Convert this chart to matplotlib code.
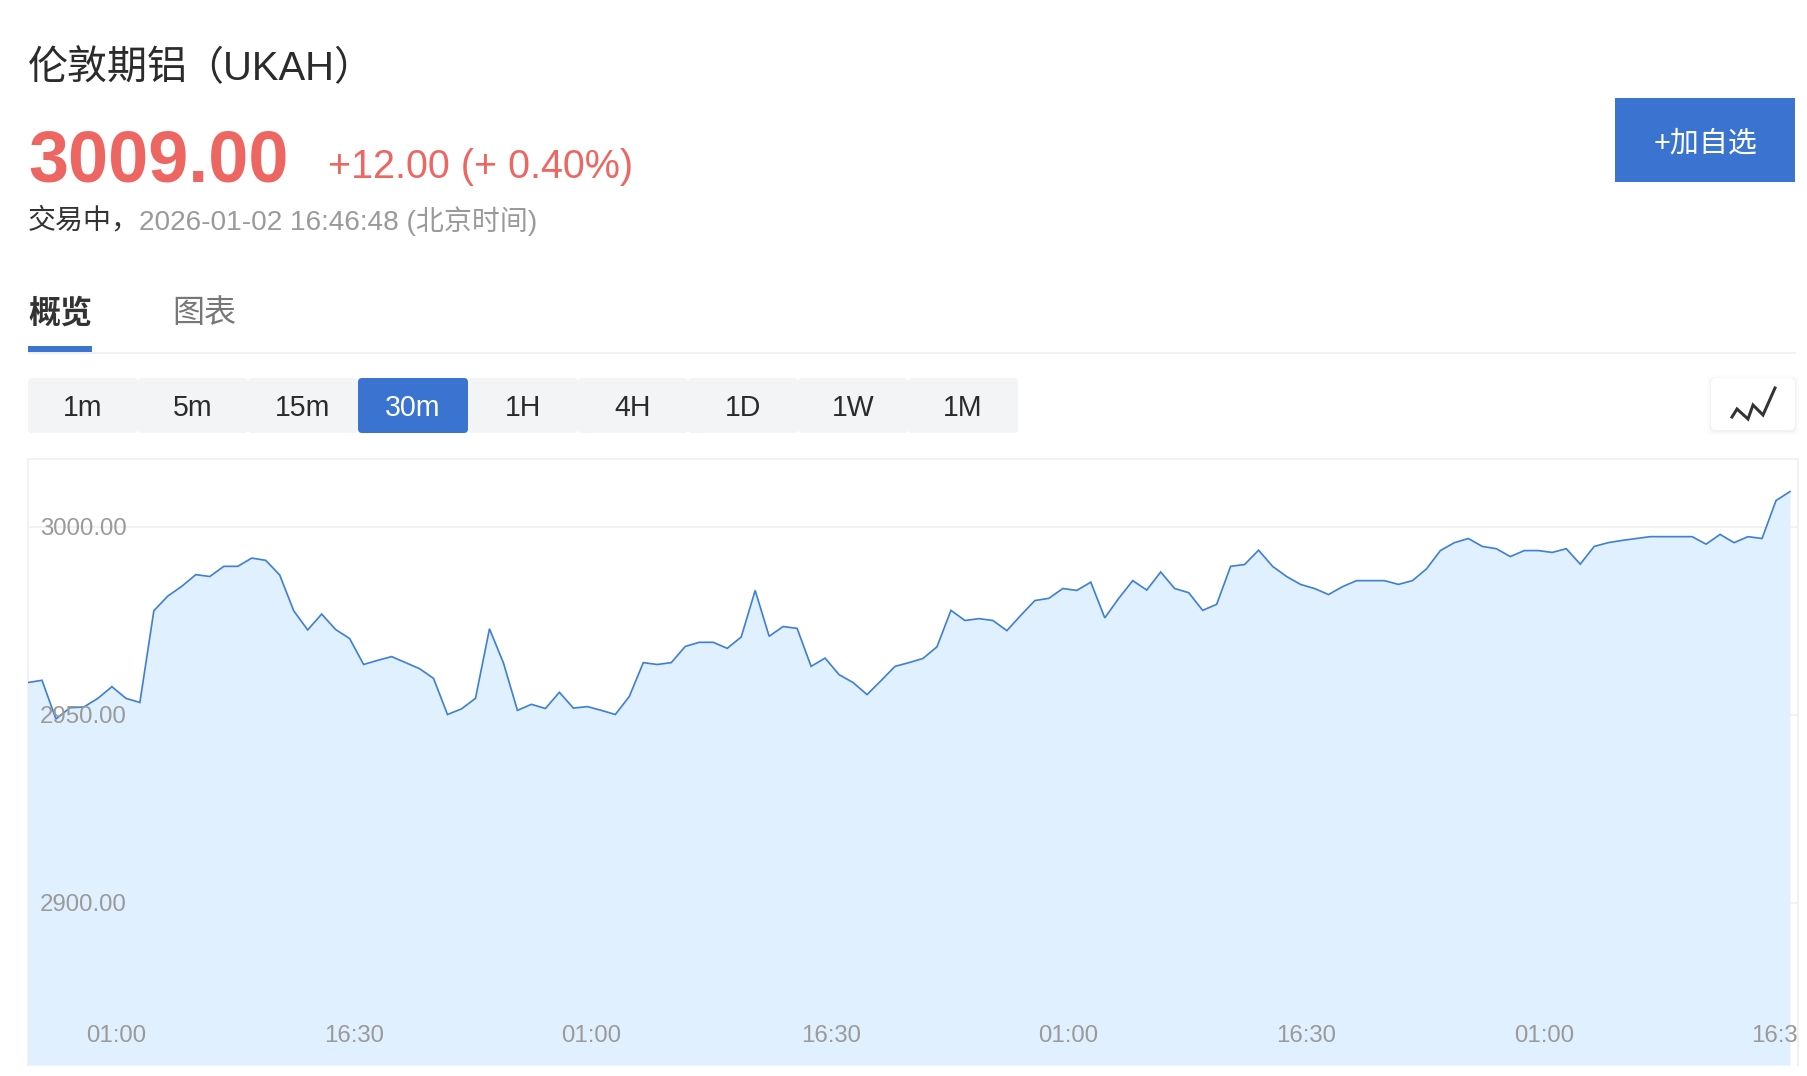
import matplotlib
matplotlib.use("Agg")
import matplotlib.pyplot as plt
from matplotlib.patches import FancyBboxPatch, Rectangle

W, H = 1808, 1076
FONT = ['Liberation Sans', 'Noto Sans CJK SC', 'DejaVu Sans']
plt.rcParams['font.family'] = FONT

prices = [
    2958.5, 2959.1, 2948.8, 2951.8, 2952.0, 2954.3, 2957.4, 2954.3, 2953.2, 2977.6,
    2981.5, 2984.1, 2987.2, 2986.7, 2989.4, 2989.4, 2991.6, 2991.0, 2987.1, 2977.6,
    2972.5, 2976.7, 2972.6, 2970.2, 2963.3, 2964.4, 2965.4, 2963.8, 2962.2, 2959.6,
    2950.0, 2951.5, 2954.3, 2972.8, 2963.7, 2951.1, 2952.7, 2951.6, 2955.9, 2951.7,
    2952.1, 2951.1, 2950.0,
    2954.8, 2963.8, 2963.3, 2963.8, 2968.1, 2969.2, 2969.2, 2967.6, 2970.6, 2983.0,
    2970.8, 2973.4, 2972.9, 2962.8, 2965.0, 2960.6, 2958.5, 2955.3, 2959.0, 2962.8,
    2963.8, 2964.9, 2968.0, 2977.7, 2975.0, 2975.5, 2975.0, 2972.3, 2976.4, 2980.3,
    2980.9, 2983.5, 2983.0, 2985.2, 2975.7, 2980.9, 2985.6, 2983.1, 2987.9, 2983.5,
    2982.4, 2977.7,
    2979.3, 2989.4, 2989.9, 2993.7, 2989.4, 2986.7, 2984.6, 2983.5, 2981.9, 2984.0,
    2985.6, 2985.6, 2985.6, 2984.6, 2985.6, 2988.7, 2993.6, 2995.7, 2996.8, 2994.7,
    2994.1, 2992.0, 2993.6, 2993.6, 2993.1, 2994.1, 2990.0, 2994.7, 2995.7, 2996.3,
    2996.8, 2997.3, 2997.3, 2997.3, 2997.3, 2995.3, 2997.9, 2995.7, 2997.3, 2996.8,
    3006.9, 3009.3,
]
y_ticks = [2900, 2950, 3000]
y_tick_labels = ["2900.00", "2950.00", "3000.00"]
x_tick_positions = [6.3, 23.3, 40.3, 57.4, 74.4, 91.4, 108.4, 125.4]
x_tick_labels = ["01:00", "16:30", "01:00", "16:30", "01:00", "16:30", "01:00", "16:30"]
intervals = ["1m", "5m", "15m", "30m", "1H", "4H", "1D", "1W", "1M"]
active_interval = "30m"

BLUE = '#3b74d0'
RED = '#ee6661'
GREY = '#9a9a9a'
RULE = '#f1f1f4'
BTN = '#f3f4f6'
FILL = '#e0f0fe'
LINE = '#3f80d3'


def px(v):
    return v * 0.72


fig = plt.figure(figsize=(W / 100, H / 100), dpi=100, facecolor='white')

# page chrome, in pixel coordinates
ui = fig.add_axes([0, 0, 1, 1], zorder=0)
ui.set_xlim(0, W)
ui.set_ylim(H, 0)
ui.axis('off')

ui.text(28, 69, "伦敦期铝", fontsize=px(40), color='#2b2b2b', va='center', ha='left')
ui.text(183, 69, "（UKAH）", fontsize=px(40), color='#2b2b2b', va='center', ha='left')
ui.text(28, 181, "3009.00", fontsize=px(72), fontweight='bold', color=RED, va='baseline')
ui.text(328, 178, "+12.00 (+ 0.40%)", fontsize=px(39.5), color=RED, va='baseline')
ui.text(28, 221, "交易中，", fontsize=px(28), color='#333333', va='center')
ui.text(139, 221, "2026-01-02 16:46:48 (北京时间)", fontsize=px(28), color=GREY, va='center')

ui.text(28, 314, "概览", fontsize=px(32), fontweight='bold', color='#333333', va='center')
ui.text(172, 314, "图表", fontsize=px(32), color='#777777', va='center')
ui.add_patch(Rectangle((28, 346), 64, 6, fc=BLUE, ec='none', zorder=3))
ui.plot([28, 1796], [353, 353], color=RULE, lw=px(2), solid_capstyle='butt')

# "add to watchlist" button
ui.add_patch(Rectangle((1615.5, 98), 180, 84, fc=BLUE, ec='none'))
ui.text(1706, 144, "+加自选", fontsize=px(29), color='white', ha='center', va='center')

# interval buttons
for i, name in enumerate(intervals):
    x0 = 28 + i * 110
    on = name == active_interval
    ui.add_patch(FancyBboxPatch((x0 + 3, 381), 104, 49, boxstyle="round,pad=3,rounding_size=4",
                                fc=BLUE if on else BTN, ec='none', mutation_aspect=1))
    ui.text(x0 + 55, 408, name, fontsize=px(28.5), color='white' if on else '#2b2b2b',
            ha='center', va='center')

# line-style toggle with soft shadow
for grow, alpha in [(4, .025), (2, .035), (1, .05)]:
    ui.add_patch(FancyBboxPatch((1715 - grow, 383 - grow), 76 + 2 * grow, 44 + 2 * grow,
                                boxstyle="round,pad=4,rounding_size=5", fc='#8a93a5', ec='none', alpha=alpha))
ui.add_patch(FancyBboxPatch((1715, 382), 76, 44, boxstyle="round,pad=4,rounding_size=5", fc='white', ec='none'))
ui.plot([1732, 1737, 1748, 1753, 1763, 1775], [417, 409, 419, 405, 415, 388],
        color='#333333', lw=px(3), solid_joinstyle='miter')

# chart
N = len(prices)
xs = list(range(N))
L, R, T, B = 28.5, 1798, 458.5, 1065
X0, X1 = 28, 1790
d = (X1 - X0) / (N - 1)
PX_PER_UNIT = 3.76
Y3000 = 526.5
ax = fig.add_axes([L / W, 1 - B / H, (R - L) / W, (B - T) / H], zorder=1)
ax.set_xlim((L - X0) / d, (R - X0) / d)
ax.set_ylim(3000 - (B - Y3000) / PX_PER_UNIT, 3000 + (Y3000 - T) / PX_PER_UNIT)
ax.set_facecolor('white')

ax.set_yticks(y_ticks)
ax.set_yticklabels(y_tick_labels)
ax.set_xticks(x_tick_positions)
ax.set_xticklabels(x_tick_labels)
ax.tick_params(axis='y', length=0, pad=px(-11.5), labelsize=px(24), labelcolor=GREY)
ax.tick_params(axis='x', length=0, pad=px(-29.5), labelsize=px(24), labelcolor=GREY)
for t in ax.get_yticklabels():
    t.set_horizontalalignment('left')
for t in ax.get_xticklabels():
    t.set_verticalalignment('center')
    t.set_clip_on(True)
    t.set_clip_box(ax.bbox)

ax.hlines(y_ticks, ax.get_xlim()[0], ax.get_xlim()[1], color=RULE, lw=px(2), zorder=1)
ax.fill_between(xs, prices, ax.get_ylim()[0], color=FILL, lw=0, zorder=2)
ax.plot(xs, prices, color=LINE, lw=px(1.7), zorder=3, solid_joinstyle='miter')
ax.xaxis.set_zorder(4)
ax.yaxis.set_zorder(4)

for side, sp in ax.spines.items():
    sp.set_color(RULE)
    sp.set_linewidth(px(2))
    sp.set_zorder(1)
ax.spines['bottom'].set_visible(False)

fig.savefig('out.png', dpi=100, facecolor='white')
